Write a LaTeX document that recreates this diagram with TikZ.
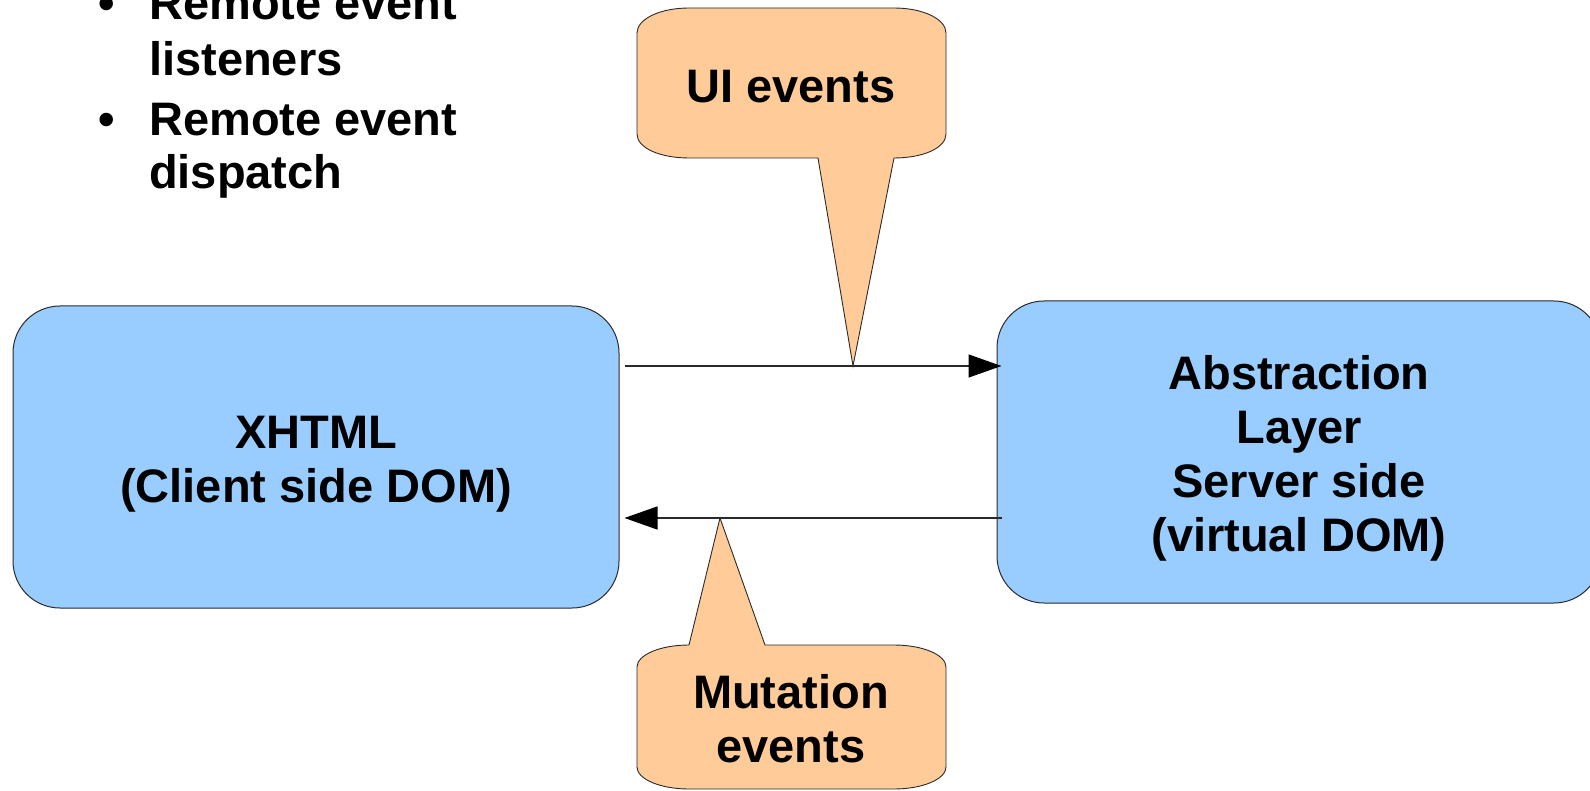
\documentclass[tikz,border=0pt]{standalone}
\usepackage{fontspec}
\setmainfont{Liberation Sans}
\usetikzlibrary{arrows.meta,calc}
\definecolor{boxblue}{HTML}{99CCFF}
\definecolor{calloutorange}{HTML}{FFCC99}
\definecolor{edgegray}{HTML}{2A2A2A}
\begin{document}
\begin{tikzpicture}[x=1pt,y=-1pt,
  bigtext/.style={font=\fontsize{47}{54}\selectfont\bfseries, align=center, inner sep=0pt},
  bluebox/.style={draw=edgegray, line width=1pt, fill=boxblue, rounded corners=47pt, inner sep=0pt},
  callout/.style={draw=edgegray, line width=0.9pt, fill=calloutorange},
  flow/.style={draw=edgegray, line width=1.3pt, -{Triangle[length=33pt,width=23pt,color=black]}},
  bulletline/.style={font=\fontsize{47}{54}\selectfont\bfseries, anchor=base west, inner sep=0pt},
  bulletdot/.style={font=\fontsize{47}{54}\selectfont\bfseries, anchor=base, inner sep=0pt}]
\clip (0,0) rectangle (1590,791);
\useasboundingbox (0,0) rectangle (1590,791);

% bullet list
\node[bulletdot] (d1) at (107,20) {•};
\node[bulletline] (l1) at (149,20) {Remote event};
\node[bulletline] (l2) at (149,76) {listeners};
\node[bulletdot] (d2) at (107,136) {•};
\node[bulletline] (l3) at (149,136) {Remote event};
\node[bulletline] (l4) at (149,189) {dispatch};

% boxes
\node[bluebox, minimum width=606pt, minimum height=302pt] (xhtml) at (316,457) {};
\node[bigtext] (xhtmltext) at ($(xhtml.center)+(0,7)$) {XHTML\\(Client side DOM)};
\node[bluebox, minimum width=604pt, minimum height=302pt] (abs) at (1299,452) {};
\node[bigtext] (abstext) at ($(abs.center)+(0,6)$) {Abstraction\\Layer\\Server side\\(virtual DOM)};

% connectors
\draw[flow] ($(xhtml.east)+(5,-91)$) -- ($(abs.west)+(5,-86)$);
\draw[flow] ($(abs.west)+(5,66)$) -- ($(xhtml.east)+(5,61)$);

% callouts
\coordinate (uitip) at (853,366);
\coordinate (muttip) at (720,518);
\draw[callout] (637,33) .. controls (637,19) and (660,8) .. (689,8)
  -- (894,8) .. controls (923,8) and (946,19) .. (946,33)
  -- (946,134) .. controls (946,148) and (923,158) .. (894,158)
  -- (uitip) -- (818,158)
  -- (689,158) .. controls (660,158) and (637,148) .. (637,134) -- cycle;
\node[bigtext] (ui) at (791,87) {UI events};

\draw[callout] (637,667) .. controls (637,655) and (660,645) .. (689,645)
  -- (muttip) -- (765,645)
  -- (894,645) .. controls (923,645) and (946,655) .. (946,667)
  -- (946,767) .. controls (946,779) and (923,789) .. (894,789)
  -- (689,789) .. controls (660,789) and (637,779) .. (637,767) -- cycle;
\node[bigtext] (mut) at (791,719) {Mutation\\events};
\end{tikzpicture}
\end{document}
